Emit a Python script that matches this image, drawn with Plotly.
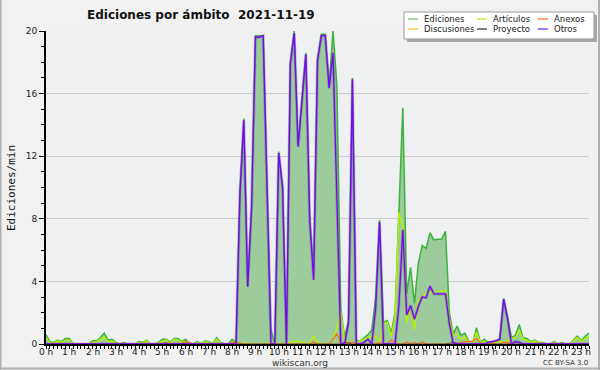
import plotly.graph_objects as go

# 10-minute slots from 00:00 to 23:20
slot_minutes = 10
n_slots = 141
hour_labels = [f"{h} h" for h in range(24)]

ediciones = [0.6, 0.15, 0.1, 0.25, 0.15, 0.35, 0.35, 0, 0, 0, 0, 0, 0.2, 0.2, 0.4, 0.7, 0.25, 0.3, 0.1, 0, 0.1, 0, 0, 0,
             0.15, 0.1, 0.25, 0, 0, 0.1, 0.3, 0.3, 0.1, 0.35, 0.35, 0.15, 0.3, 0, 0, 0.15, 0, 0.2, 0.15, 0, 0.4, 0.1, 0, 0,
             0.3, 0.1, 9.7, 14.4, 3.7, 8.8, 19.7, 19.7, 19.7, 10.2, 0.9, 0, 12.3, 10.1, 0.1, 18.0, 20.0, 12.7, 15.4, 18.6,
             8.0, 4.6, 18.2, 19.8, 19.8, 16.5, 20.0, 16.5, 2.3, 0.4, 1.5, 17.0, 0.2, 0.2, 0.4, 0.6, 0.9, 3.0, 7.9, 1.4,
             1.5, 0.7, 2.0, 8.6, 15.1, 3.2, 4.9, 2.6, 5.15, 6.3, 6.1, 7.1, 6.65, 6.7, 6.7, 7.2, 2.0, 0.65, 1.15, 0.55,
             0.7, 0.15, 0, 1.05, 0.1, 0.3, 0.1, 0.15, 0.2, 0.35, 2.9, 1.75, 0.4, 0.55, 1.25, 0.4, 0.35, 0.15, 0.25, 0.1,
             0.1, 0, 0, 0.15, 0, 0.1, 0, 0, 0.25, 0.5, 0.2, 0.5, 0.7]

articulos = [0.4, 0.1, 0.05, 0.2, 0.1, 0.25, 0.25, 0, 0, 0, 0, 0, 0.1, 0.15, 0.3, 0.45, 0.15, 0.2, 0.05, 0, 0.05, 0, 0, 0,
             0.1, 0.05, 0.2, 0, 0, 0.05, 0.2, 0.25, 0.05, 0.3, 0.25, 0.1, 0.15, 0, 0, 0.1, 0, 0.15, 0.1, 0, 0.3, 0.05, 0, 0,
             0.15, 0.05, 0, 0.1, 0, 0, 0, 0, 0, 0.05, 0.1, 0, 0.05, 0, 0, 0.1, 0.15, 0.2, 0.1, 0,
             0.1, 0.5, 0.1, 0, 0, 0, 0.3, 1.0, 2.1, 0.2, 0.1, 0.1, 0.1, 0.2, 0.3, 0.4, 0.5, 0.5, 0.1, 1.3,
             1.4, 0.5, 1.7, 8.4, 7.5, 1.35, 2.4, 0.9, 2.8, 3.0, 3.25, 3.35, 3.2, 3.35, 3.4, 3.4, 1.6, 0.6, 0.6, 0.3,
             0.45, 0.1, 0, 0.75, 0.05, 0.2, 0.05, 0.1, 0.1, 0.2, 0.1, 0.2, 0.35, 0.4, 0.9, 0.3, 0.25, 0.1, 0.2, 0.05,
             0.05, 0, 0, 0.1, 0, 0.05, 0, 0, 0.2, 0.4, 0.15, 0.3, 0.5]

anexos = [0] * 31 + [0.1, 0, 0, 0, 0, 0.15, 0.1] + [0] * 10 + [0.1, 0.1, 0.05] + [0] * 18 + \
         [0.15, 0, 0, 0, 0, 0.3, 0.65, 0.1, 0, 0.1, 0.1, 0.05, 0, 0, 0, 0, 0, 0.1, 0, 0, 0.25, 0.1, 0, 0, 0.15,
          0, 0.1, 0, 0.15] + [0] * 9 + [0.1, 0.15, 0.15, 0.2, 0.35, 0.05, 0, 0, 0.05, 0, 0, 0.1, 0.1] + [0] * 21

discusiones = [0] * 141

proyecto = [0] * 77 + [0.1, 0.05] + [0] * 25 + [0.05, 0.1, 0.05] + [0] * 34

otros = [0] * 50 + [9.6, 14.3, 3.66, 8.7, 19.6, 19.6, 19.7, 10.0, 0, 0, 12.2, 10.0, 0, 17.9, 19.85, 12.6, 15.3, 18.5,
                    7.9, 4.1, 18.1, 19.7, 19.7, 16.35, 18.6, 9.0, 0, 0, 1.4, 16.9, 0, 0, 0.1, 0.3, 0, 2.3, 7.8, 0,
                    0, 0, 0, 2.5, 7.3, 1.85, 2.45, 1.6, 2.4, 3.0, 2.95, 3.7, 3.2, 3.2, 3.2, 3.2, 1.3, 0,
                    0, 0, 0, 0, 0, 0, 0, 0, 0.1, 0.15, 0.2, 0.3, 2.85, 1.6, 0, 0.15, 0.1, 0] + [0] * 18

x = [i * slot_minutes for i in range(n_slots)]
hour_positions = [h * 60 for h in range(24)]

# plot-area geometry (px)
L, R, T, B = 46, 589, 31, 344
W, H = R - L, B - T


def px(xp):
    return (xp - L) / W


def py(yp):
    return (B - yp) / H


fig = go.Figure()
fig.add_trace(go.Scatter(x=x, y=ediciones, mode="lines", fill="tozeroy", fillcolor="#9ccb9c",
                         line=dict(color="#3db33d", width=1.5), name="Ediciones", showlegend=False))
fig.add_trace(go.Scatter(x=x, y=discusiones, mode="lines", line=dict(color="#ffcc33", width=1.2), showlegend=False))
fig.add_trace(go.Scatter(x=x, y=articulos, mode="lines", line=dict(color="#b8f000", width=1.4), showlegend=False))
fig.add_trace(go.Scatter(x=x, y=anexos, mode="lines", line=dict(color="#ff6a20", width=1.2), showlegend=False))
fig.add_trace(go.Scatter(x=x, y=proyecto, mode="lines", line=dict(color="#555555", width=1.2), showlegend=False))
fig.add_trace(go.Scatter(x=x, y=otros, mode="lines", line=dict(color="rgba(90,90,120,0.35)", width=3),
                         showlegend=False, hoverinfo="skip"))
fig.add_trace(go.Scatter(x=x, y=otros, mode="lines", line=dict(color="#7f00ff", width=1.3), name="Otros",
                         showlegend=False))

fig.update_layout(
    width=600, height=370,
    margin=dict(l=L, r=600 - R, t=T, b=370 - B, autoexpand=False),
    paper_bgcolor="#f1f1f1", plot_bgcolor="#eef0f2",
    font=dict(family="DejaVu Sans", size=9, color="#222"),
    showlegend=False,
)
fig.update_xaxes(range=[0, (n_slots - 1) * slot_minutes], tickmode="array",
                 tickvals=hour_positions, showticklabels=False, automargin=False,
                 ticks="outside", ticklen=3, tickwidth=1, tickcolor="#000",
                 showline=True, linecolor="#000", linewidth=2, showgrid=False, zeroline=False,
                 minor=dict(dtick=slot_minutes, tick0=0, ticks="outside", ticklen=3, tickcolor="#000"))
fig.update_yaxes(range=[0, 20], tickmode="array", tickvals=[0, 4, 8, 12, 16, 20], automargin=False,
                 ticks="outside", ticklen=5, tickcolor="#000",
                 showline=True, linecolor="#000", linewidth=2,
                 showgrid=True, gridcolor="#cccccc", gridwidth=1, zeroline=False,
                 tickfont=dict(size=9, family="DejaVu Sans", color="#222"),
                 minor=dict(dtick=1, ticks="outside", ticklen=3, tickcolor="#000", showgrid=False))

ann = []
# hour tick labels, placed just under the axis
for pos, lab in zip(hour_positions, hour_labels):
    ann.append(dict(text=lab, x=pos, xref="x", y=py(351.5), yref="paper", xanchor="center", yanchor="middle",
                    showarrow=False, font=dict(size=9, family="DejaVu Sans", color="#222")))
ann.append(dict(text="<b>Ediciones por ámbito  2021-11-19</b>", x=px(85), y=py(15), xref="paper", yref="paper",
                xanchor="left", yanchor="middle", showarrow=False,
                font=dict(size=12, family="DejaVu Sans", color="#111")))
ann.append(dict(text="Ediciones/min", x=px(11), y=py(188), xref="paper", yref="paper", textangle=-90,
                xanchor="center", yanchor="middle", showarrow=False,
                font=dict(size=11, family="DejaVu Sans Mono", color="#111")))
ann.append(dict(text="wikiscan.org", x=px(300), y=py(362.5), xref="paper", yref="paper",
                xanchor="center", yanchor="middle", showarrow=False,
                font=dict(size=9, family="DejaVu Sans", color="#333")))
ann.append(dict(text="CC BY-SA 3.0", x=px(590), y=py(363), xref="paper", yref="paper",
                xanchor="right", yanchor="middle", showarrow=False,
                font=dict(size=7, family="DejaVu Sans", color="#333")))

shapes = []
# outer frame
for (a, b, c, d) in [(0.5, 0, 0.5, 370), (599, 0, 599, 370), (0, 368.5, 600, 368.5)]:
    shapes.append(dict(type="line", xref="paper", yref="paper", x0=px(a), y0=py(b), x1=px(c), y1=py(d),
                       line=dict(color="#b0b0b0", width=2)))
# legend box with shadow
shapes.append(dict(type="rect", xref="paper", yref="paper", x0=px(407), y0=py(15), x1=px(597), y1=py(42),
                   fillcolor="#a8a8a8", line=dict(width=0)))
shapes.append(dict(type="rect", xref="paper", yref="paper", x0=px(404), y0=py(12), x1=px(594), y1=py(39),
                   fillcolor="#ffffff", line=dict(color="#999999", width=1)))

legend_items = [("Ediciones", "#88cc88", 408, 19), ("Artículos", "#ccee44", 477, 19), ("Anexos", "#ff8844", 538, 19),
                ("Discusiones", "#ffcc44", 408, 29), ("Proyecto", "#555555", 477, 29), ("Otros", "#8844ff", 538, 29)]
for name, col, lx, ly in legend_items:
    shapes.append(dict(type="line", xref="paper", yref="paper", x0=px(lx), y0=py(ly), x1=px(lx + 10), y1=py(ly),
                       line=dict(color=col, width=1.5)))
    ann.append(dict(text=name, x=px(lx + 14), y=py(ly), xref="paper", yref="paper", xanchor="left",
                    yanchor="middle", showarrow=False, font=dict(size=8.5, family="DejaVu Sans", color="#222")))

fig.update_layout(annotations=ann, shapes=shapes)
fig.write_html("out.html", config={"displayModeBar": False},
               post_script="document.body.style.margin='0';document.body.style.overflow='hidden';")
